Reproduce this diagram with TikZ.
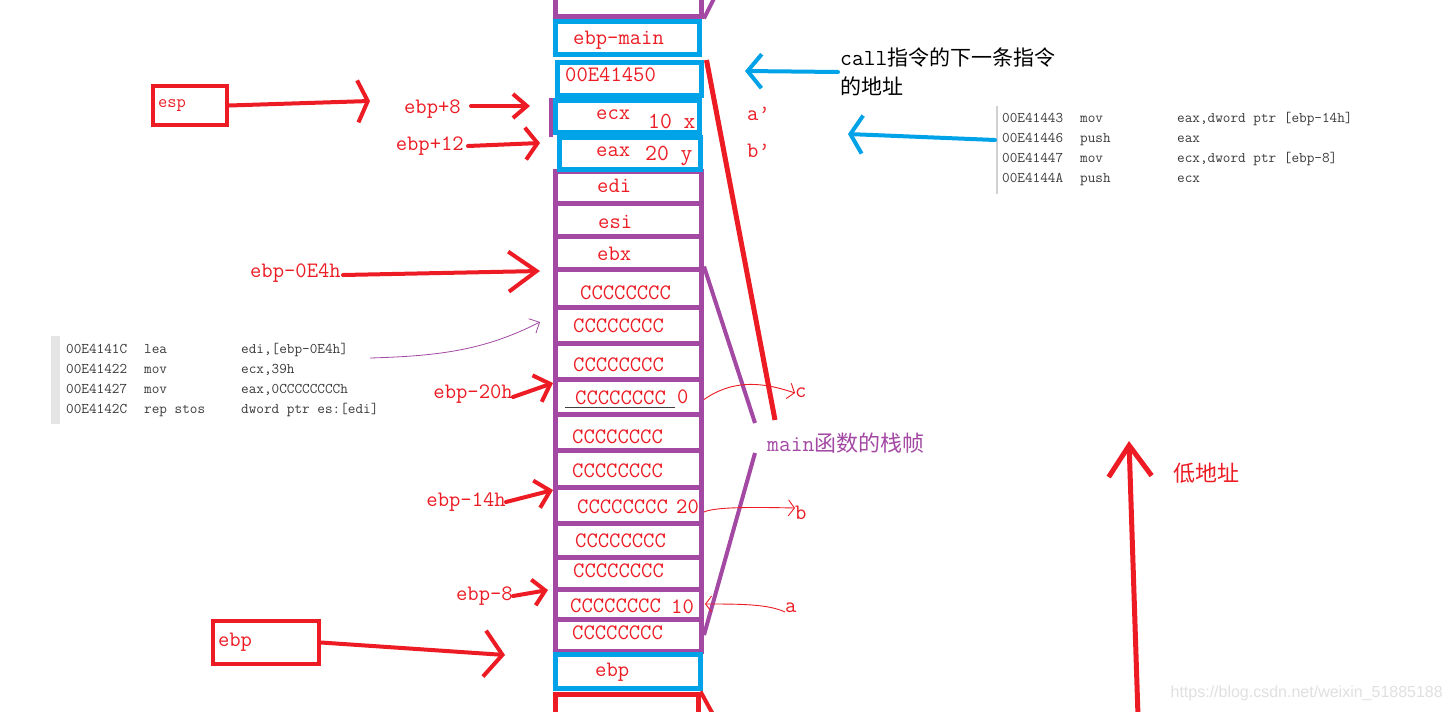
\documentclass[tikz,border=0pt]{standalone}
\usepackage{fontspec}
\setmainfont{Liberation Serif}
\newfontfamily\cjk{Noto Sans CJK SC}
\newfontfamily\wmfam{Liberation Sans}
\usepackage{tikz}
\usetikzlibrary{arrows.meta, positioning, calc}
\definecolor{pred}{HTML}{ED1C24}
\definecolor{ppurple}{HTML}{A349A4}
\definecolor{pblue}{HTML}{00A2E8}
\definecolor{codegray}{HTML}{3A3A3A}
\newcommand{\cellfont}{\ttfamily\fontsize{22}{24}\selectfont}
\newcommand{\asmrow}[3]{\makebox[78pt][l]{#1}\makebox[97pt][l]{#2}#3}
\tikzset{
  pcell/.style={draw=ppurple, line width=5pt, minimum width=146, minimum height=#1, inner sep=0pt},
  bcell/.style={draw=pblue, line width=5pt, minimum width=144, minimum height=#1, inner sep=0pt},
  ctext/.style={font=\cellfont, text=pred, inner sep=0pt, anchor=west},
  rlabel/.style={font=\cellfont, text=pred, inner sep=0pt},
  redbox/.style={draw=pred, line width=4pt, text=pred, align=left},
  redarrow/.style n args={2}{draw=pred, line width=4pt, line cap=round, -{Straight Barb[length=#1,width=#2]}},
  bluearrow/.style n args={2}{draw=pblue, line width=4pt, line cap=round, -{Straight Barb[length=#1,width=#2]}},
  thinred/.style={draw=pred, line width=0.9pt, -{Straight Barb[length=6pt,width=16pt]}},
  asm/.style={font=\ttfamily\fontsize{14.8}{20}\selectfont, text=codegray, align=left, anchor=west, inner sep=0pt},
}
\begin{document}
\begin{tikzpicture}[x=1pt, y=-1pt]
\useasboundingbox (0,0) rectangle (1451,712);
\fill[white] (0,0) rectangle (1451,712);

% purple cells of the stack
\node[pcell=36] (cTop) at (628.5,-2) {};
\node[pcell=32] (cEdi) at (628.5,187) {};
\node[pcell=33] (cEsi) at (628.5,219.5) {};
\node[pcell=33] (cEbx) at (628.5,252.5) {};
\node[pcell=38] (cC1) at (628.5,288) {};
\node[pcell=36] (cC2) at (628.5,325) {};
\node[pcell=36] (cC3) at (628.5,361) {};
\node[pcell=35] (cC4) at (628.5,396.5) {};
\node[pcell=36] (cC5) at (628.5,432) {};
\node[pcell=37] (cC6) at (628.5,468.5) {};
\node[pcell=36] (cC7) at (628.5,505) {};
\node[pcell=34] (cC8) at (628.5,540) {};
\node[pcell=32] (cC9) at (628.5,573) {};
\node[pcell=30] (cC10) at (628.5,604) {};
\node[pcell=32] (cC11) at (628.5,635) {};
\draw[ppurple, line width=4pt] (551,98) -- (551,137);
\draw[ppurple, line width=4pt] (cTop.south east) -- ++(10,-20);

% blue cells
\node[bcell=33] (cMain) at (627.5,38) {};
\node[bcell=33] (cRet) at (629,79) {};
\node[bcell=32] (cEcx) at (627.5,116.5) {};
\node[bcell=32, minimum width=141] (cEax) at (630,153.5) {};
\node[bcell=34, minimum width=145] (cEbp) at (628,671.5) {};
\node[draw=pred, line width=5pt, minimum width=143, minimum height=46] (cRed) at (626.5,717) {};
\draw[pred, line width=4pt] (cRed.north east) -- ++(12,22);

% texts in the cells
\node[ctext] (tMain) at (573,40) {ebp-main};
\node[ctext] (tRet) at (565,75) {00E41450};
\node[ctext] (tEcx) at (596,115) {ecx};
\node[ctext, font=\ttfamily\fontsize{23}{24}\selectfont] (tX) at (648,121) {10 x};
\node[ctext] (tEax) at (596,152) {eax};
\node[ctext, font=\ttfamily\fontsize{23}{24}\selectfont] (tY) at (645,156) {20 y};
\node[ctext] (tEdi) at (597,186) {edi};
\node[ctext] (tEsi) at (598,222) {esi};
\node[ctext] (tEbx) at (597,254) {ebx};
\node[ctext] (tC1) at (580,293) {CCCCCCCC};
\node[ctext] (tC2) at (573,326) {CCCCCCCC};
\node[ctext] (tC3) at (573,365) {CCCCCCCC};
\node[ctext] (tC4) at (575,398) {CCCCCCCC};
\node[ctext] (tC) at (677,397) {0};
\draw[black!75, line width=0.8pt] (565,407) -- (675,407);
\node[ctext] (tC5) at (572,437) {CCCCCCCC};
\node[ctext] (tC6) at (572,471) {CCCCCCCC};
\node[ctext] (tC7) at (577,507) {CCCCCCCC};
\node[ctext] (tB) at (676,507) {20};
\node[ctext] (tC8) at (575,541) {CCCCCCCC};
\node[ctext] (tC9) at (573,571) {CCCCCCCC};
\node[ctext] (tC10) at (570,606) {CCCCCCCC};
\node[ctext] (tA) at (671,607) {10};
\node[ctext] (tC11) at (572,633) {CCCCCCCC};
\node[ctext] (tEbp) at (595,672) {ebp};

% registers and offsets on the left
\node[redbox, font=\ttfamily\fontsize{18}{20}\selectfont, minimum width=74, minimum height=39, text width=64, inner xsep=5pt] (espBox) at (190,105.5) {esp};
\node[redbox, font=\cellfont, minimum width=106, minimum height=43, text width=96, inner xsep=5pt] (ebpBox) at (266,642.5) {ebp};
\coordinate (espTip) at (370,101);
\coordinate (ebpTip) at (505,655);
\draw[redarrow={10pt}{42pt}] (espBox.east) -- (espTip);
\draw[redarrow={18pt}{46pt}] (ebpBox.east) -- (ebpTip);

\node[rlabel, anchor=east] (lP8) at (461,109) {ebp+8};
\node[rlabel, anchor=east] (lP12) at (464,146) {ebp+12};
\node[rlabel, anchor=east] (lE4h) at (341,273) {ebp-0E4h};
\node[rlabel, anchor=east] (l20h) at (513,394) {ebp-20h};
\node[rlabel, anchor=east] (l14h) at (506,502) {ebp-14h};
\node[rlabel, anchor=east] (lM8) at (513,596) {ebp-8};
\coordinate (tipP8) at (530,106);
\coordinate (tipP12) at (540,143);
\coordinate (tipE4h) at (540,271);
\coordinate (tip20h) at (553,383);
\coordinate (tip14h) at (553,490);
\coordinate (tipM8) at (548,590);
\draw[redarrow={14pt}{24pt}] ([shift={(10,-3)}]lP8.east) -- (tipP8);
\draw[redarrow={12pt}{32pt}] ([xshift=4]lP12.east) -- (tipP12);
\draw[redarrow={28pt}{40pt}] ([shift={(2,2)}]lE4h.east) -- (tipE4h);
\draw[redarrow={14pt}{28pt}] ([yshift=-3]l20h.east) -- (tip20h);
\draw[redarrow={14pt}{28pt}] (l14h.east) -- (tip14h);
\draw[redarrow={12pt}{26pt}] (lM8.east) -- (tipM8);

% disassembly
\node[asm] (asmL) at (66,380) {\asmrow{00E4141C}{lea}{edi,[ebp-0E4h]}\\
  \asmrow{00E41422}{mov}{ecx,39h}\\
  \asmrow{00E41427}{mov}{eax,0CCCCCCCCh}\\
  \asmrow{00E4142C}{rep stos}{dword ptr es:[edi]}};
\fill[black!10] ([shift={(-15,-7)}]asmL.north west) rectangle ([shift={(-6,7)}]asmL.south west);
\coordinate (leaEnd) at (370,358);
\coordinate (leaTip) at (540,322);
\draw[ppurple, line width=0.8pt, -{Straight Barb[length=8pt,width=16pt]}] (leaEnd) .. controls (440,356) and (485,350) .. (leaTip);

\node[asm] (asmR) at (1002,149) {\asmrow{00E41443}{mov}{eax,dword ptr [ebp-14h]}\\
  \asmrow{00E41446}{push}{eax}\\
  \asmrow{00E41447}{mov}{ecx,dword ptr [ebp-8]}\\
  \asmrow{00E4144A}{push}{ecx}};
\fill[black!18] ([shift={(-6,-6)}]asmR.north west) rectangle ([shift={(-4,8)}]asmR.south west);
\coordinate (tipPush) at (848,134);
\draw[bluearrow={12pt}{38pt}] ([shift={(-7,-9)}]asmR.west) -- (tipPush);

% return address note
\node[font=\cjk\fontsize{21}{29}\selectfont, align=left, anchor=west, inner sep=0pt] (callNote) at (840,72) {{\ttfamily\fontsize{23}{29}\selectfont call}指令的下一条指令\\的地址};
\coordinate (tipCall) at (745,71);
\draw[bluearrow={14pt}{34pt}] ([xshift=-2]callNote.west) -- (tipCall);

% parameters
\node[rlabel, anchor=west] (aPrime) at (747,114) {a’};
\node[rlabel, anchor=west] (bPrime) at (747,151) {b’};

% frame brackets
\coordinate (redEnd) at (775,420);
\draw[pred, line width=5pt] ([xshift=3]cRet.north east) -- (redEnd);
\coordinate (pUp) at (755,423);
\coordinate (pLo) at (755,453);
\draw[ppurple, line width=4pt] (cC1.north east) -- (pUp);
\draw[ppurple, line width=4pt] (pLo) -- (cC11.east);
\node[font=\cjk\fontsize{22}{24}\selectfont, text=ppurple, anchor=west, inner sep=0pt] (mainLbl) at (767,443) {{\ttfamily\fontsize{23}{24}\selectfont main}函数的栈帧};

% locals a, b, c
\node[rlabel, anchor=west] (cLbl) at (795,393) {c};
\node[rlabel, anchor=west] (bLbl) at (795,513) {b};
\node[rlabel, anchor=west] (aLbl) at (785,608) {a};
\draw[thinred] ([yshift=-3]cC4.east) .. controls (735,378) and (765,383) .. (cLbl.west);
\draw[thinred] ([yshift=-7]cC7.east) .. controls (715,507) and (750,507) .. ([yshift=5]bLbl.west);
\draw[thinred] ([yshift=-4]aLbl.west) .. controls (768,604) and (740,604) .. ([xshift=1]cC10.east);

% address direction
\coordinate (lowBase) at (1138,716);
\coordinate (lowTip) at (1129,441);
\draw[redarrow={31pt}{43pt}, line width=5pt] (lowBase) -- (lowTip);
\node[font=\cjk\fontsize{22}{24}\selectfont, text=pred, anchor=west, inner sep=0pt] (lowLbl) at (1173,473) {低地址};

\node[font=\wmfam\fontsize{16}{18}\selectfont, text=black!12, anchor=east, inner sep=0pt] (mark) at (1443,693) {https://blog.csdn.net/weixin\_51885188};
\end{tikzpicture}
\end{document}
